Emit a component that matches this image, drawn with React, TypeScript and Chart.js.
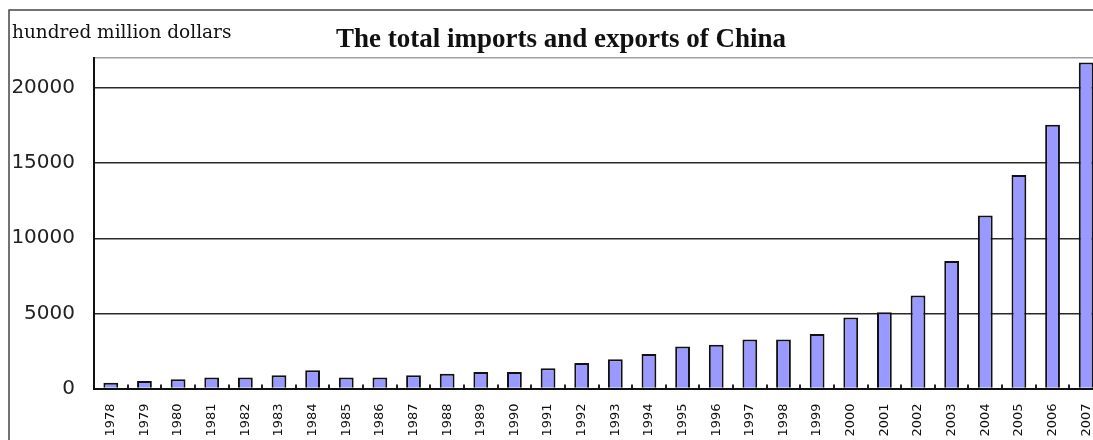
import React, { useEffect, useRef } from 'react';
import { Chart, registerables } from 'chart.js';

Chart.register(...registerables);

const YEARS = [
  '1978', '1979', '1980', '1981', '1982', '1983', '1984', '1985', '1986', '1987',
  '1988', '1989', '1990', '1991', '1992', '1993', '1994', '1995', '1996', '1997',
  '1998', '1999', '2000', '2001', '2002', '2003', '2004', '2005', '2006', '2007',
];
const TOTALS = [
  380, 500, 610, 740, 740, 880, 1210, 740, 740, 880,
  980, 1100, 1100, 1340, 1690, 1940, 2290, 2800, 2910, 3270,
  3270, 3620, 4730, 5080, 6190, 8490, 11520, 14220, 17560, 21700,
];
const Y_TICKS = [0, 5000, 10000, 15000, 20000];
const Y_MAX = 22000;
const TITLE = 'The total imports and exports of China';
const UNIT_LABEL = 'hundred million dollars';

const decorPlugin = {
  id: 'decor',
  beforeDraw(chart: any) {
    const { ctx, width, height } = chart;
    ctx.save();
    ctx.fillStyle = '#ffffff';
    ctx.fillRect(0, 0, width, height);
    ctx.strokeStyle = '#444444';
    ctx.lineWidth = 1.5;
    ctx.beginPath();
    ctx.moveTo(1, height + 5);
    ctx.lineTo(1, 2);
    ctx.lineTo(width + 5, 2);
    ctx.stroke();
    ctx.restore();
  },
  afterDraw(chart: any) {
    const { ctx } = chart;
    ctx.save();
    ctx.fillStyle = '#111111';
    ctx.textBaseline = 'alphabetic';
    ctx.textAlign = 'left';
    ctx.font = '18.5px "DejaVu Serif"';
    ctx.fillText(UNIT_LABEL, 4, 30);
    ctx.textAlign = 'center';
    ctx.font = 'bold 27px "Liberation Serif"';
    ctx.fillText(TITLE, 553, 38.5);
    ctx.restore();
  },
};

export default function App() {
  const ref = useRef<HTMLCanvasElement | null>(null);

  useEffect(() => {
    if (!ref.current) return;
    const chart = new Chart(ref.current, {
      type: 'bar',
      data: {
        labels: YEARS,
        datasets: [
          {
            data: TOTALS,
            backgroundColor: '#9999ff',
            borderColor: '#111111',
            borderWidth: 2,
            barPercentage: 0.44,
            categoryPercentage: 1,
          },
        ],
      },
      options: {
        animation: false,
        responsive: false,
        devicePixelRatio: 1,
        layout: { padding: { top: 50, left: 0, right: 0, bottom: 0 } },
        plugins: {
          legend: { display: false },
          title: { display: false },
          tooltip: { enabled: false },
        },
        scales: {
          x: {
            grid: {
              offset: true,
              drawOnChartArea: false,
              drawTicks: true,
              tickLength: -4,
              color: '#222222',
              lineWidth: 2,
            },
            border: { display: true, color: '#111111', width: 2 },
            ticks: {
              autoSkip: false,
              minRotation: 90,
              maxRotation: 90,
              padding: 19,
              color: '#111111',
              font: { family: '"DejaVu Sans"', size: 13 },
            },
            afterFit(axis: any) {
              axis.height = 51.5;
              axis.paddingLeft = 0;
              axis.paddingRight = 0;
            },
          },
          y: {
            min: 0,
            max: Y_MAX,
            afterBuildTicks(axis: any) {
              axis.ticks = [...Y_TICKS, Y_MAX].map((v) => ({ value: v }));
            },
            grid: {
              drawTicks: false,
              color: (c: any) => (c.tick && c.tick.value === Y_MAX ? '#a0a0a0' : '#2a2a2a'),
              lineWidth: 1.5,
            },
            border: { display: true, color: '#111111', width: 2 },
            ticks: {
              padding: 19,
              color: '#222222',
              font: { family: '"DejaVu Sans"', size: 20 },
              callback: (v: any) => (v === Y_MAX ? '' : String(v)),
            },
            afterFit(axis: any) {
              axis.width = 86;
              axis.paddingTop = 0;
              axis.paddingBottom = 0;
            },
          },
        },
      },
      plugins: [decorPlugin],
    });
    return () => chart.destroy();
  }, []);

  return (
    <div
      style={{
        position: 'fixed',
        left: 8,
        top: 8,
        width: 1085,
        height: 432,
        overflow: 'hidden',
      }}
    >
      <canvas ref={ref} width={1095} height={432} style={{ display: 'block', width: 1095, height: 432 }} />
    </div>
  );
}
